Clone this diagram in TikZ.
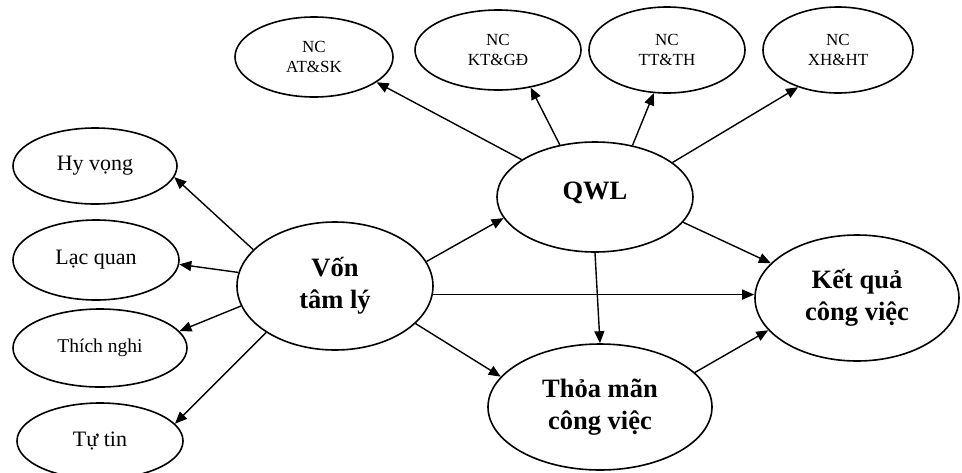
\documentclass[tikz,border=0pt]{standalone}
\usepackage{fontspec}
\setmainfont{Liberation Serif}
\usetikzlibrary{shapes.geometric,arrows.meta}
\tikzset{
  oval/.style n args={2}{ellipse, draw, line width=1.6pt, inner sep=0pt,
     minimum width=#1, minimum height=#2, align=center},
  smalltxt/.style={font=\fontsize{17}{20}\selectfont},
  midtxt/.style={font=\fontsize{22}{26}\selectfont},
  bigtxt/.style={font=\fontsize{26.5}{32}\selectfont\bfseries},
  arr/.style={line width=1.4pt, -{Triangle[length=12pt,width=10pt]}}
}
\begin{document}
\begin{tikzpicture}[x=1pt,y=-1pt]
\useasboundingbox (0,0) rectangle (962,472);
% top row
\node[oval={158pt}{80pt}, smalltxt] (at) at (314,57) {NC\\AT\&SK};
\node[oval={166pt}{80pt}, smalltxt] (kt) at (498,50) {NC\\KT\&GĐ};
\node[oval={156pt}{86pt}, smalltxt] (tt) at (667,50) {NC\\TT\&TH};
\node[oval={150pt}{86pt}, smalltxt] (xh) at (838,50) {NC\\XH\&HT};
% left column
\node[oval={164pt}{76pt}, midtxt] (hv) at (95,166) {\raisebox{2pt}{Hy vọng}};
\node[oval={166pt}{80pt}, midtxt] (lq) at (96,260) {\raisebox{4pt}{Lạc quan}};
\node[oval={174pt}{78pt}, font=\fontsize{19.5}{23}\selectfont] (tn) at (100,348) {\raisebox{5pt}{Thích nghi}};
\node[oval={166pt}{76pt}, midtxt] (tu) at (100,441) {Tự tin};
% main nodes
\node[oval={196pt}{128pt}, bigtxt] (vtl) at (335,286) {\raisebox{2pt}{\begin{tabular}{@{}c@{}}Vốn\\tâm lý\end{tabular}}};
\node[oval={196pt}{110pt}, bigtxt] (qwl) at (595,197) {\raisebox{12pt}{QWL}};
\node[oval={204pt}{126pt}, bigtxt] (kq) at (857,298) {Kết quả\\công việc};
\node[oval={224pt}{126pt}, bigtxt] (tm) at (600,407) {Thỏa mãn\\công việc};
% connectors from Von tam ly
\draw[arr] (vtl.156) -- (hv.-8);
\draw[arr] (vtl.172) -- (lq.-3);
\draw[arr] (vtl.-168) -- (tn.12);
\draw[arr] (vtl.-146) -- (tu.13);
\draw[arr] (vtl.15) -- (qwl.-167);
\draw[arr] (vtl.-5) -- (vtl.-5 -| kq.west);
\draw[arr] (vtl.-25) -- (tm.163);
% connectors from QWL
\draw[arr] (qwl.153) -- (at.-22);
\draw[arr] (qwl.124) -- (kt.-49);
\draw[arr] (qwl.54) -- (tt.-107);
\draw[arr] (qwl.24) -- (xh.-137);
\draw[arr] (qwl.-16) -- (kq.158);
\draw[arr] (qwl.south) -- (tm.north);
% from Thoa man
\draw[arr] (tm.20) -- (kq.-160);
\end{tikzpicture}
\end{document}
